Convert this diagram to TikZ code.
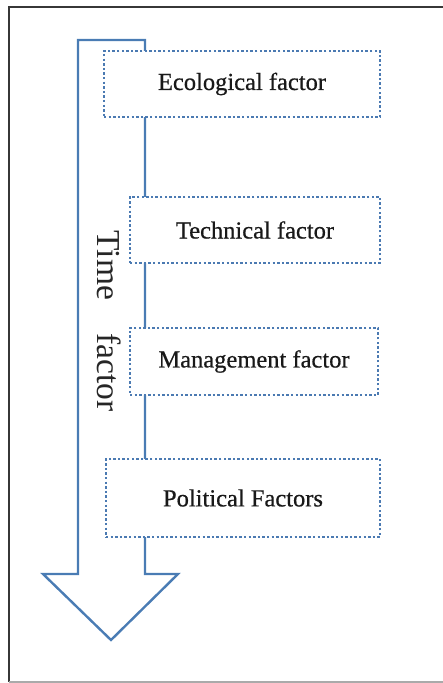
\documentclass[tikz,border=0pt]{standalone}
\usepackage{fontspec}
\setmainfont{Liberation Serif}
\newfontfamily\boxfont[FakeBold=0.6]{Liberation Serif}
\definecolor{arrowblue}{RGB}{74,124,180}
\definecolor{dotblue}{RGB}{75,122,178}
\definecolor{framegray}{RGB}{55,55,55}
\definecolor{framelight}{RGB}{170,170,170}
\begin{document}
\begin{tikzpicture}[x=1pt,y=-1pt,
  factorbox/.style={draw=dotblue, fill=white, line width=1.9pt,
    dash pattern=on 2.4pt off 2.2pt, inner sep=0pt, text=black!90,
    font=\boxfont\fontsize{24.5}{28}\selectfont},
  timearrow/.style={draw=arrowblue, fill=white, line width=2.4pt, line join=miter}]
\useasboundingbox (0,0) rectangle (442,683);
% outer frame
\draw[framegray, line width=2pt] (9,682) -- (9,7) -- (443,7);
\draw[framelight, line width=1.5pt] (9,682) -- (443,682);
% hollow downward arrow for time
\draw[timearrow] (78,40) -- (145,40) -- (145,574) -- (178,574) -- (111,640)
  -- (43,574) -- (78,574) -- cycle;
\node[rotate=-90, font=\fontsize{33.5}{38}\selectfont, text=black!85] (time)
  at (109,321) {Time\hspace{1.0em}factor};
% factor boxes
\node[factorbox, minimum width=276, minimum height=66] (eco) at (242,84) {Ecological factor};
\node[factorbox, minimum width=250, minimum height=66] (tech) at (255,230) {Technical factor};
\node[factorbox, minimum width=248, minimum height=67] (mgmt) at (254,361.5) {Management factor};
\node[factorbox, minimum width=274, minimum height=78] (pol) at (243,498) {Political Factors};
\end{tikzpicture}
\end{document}
